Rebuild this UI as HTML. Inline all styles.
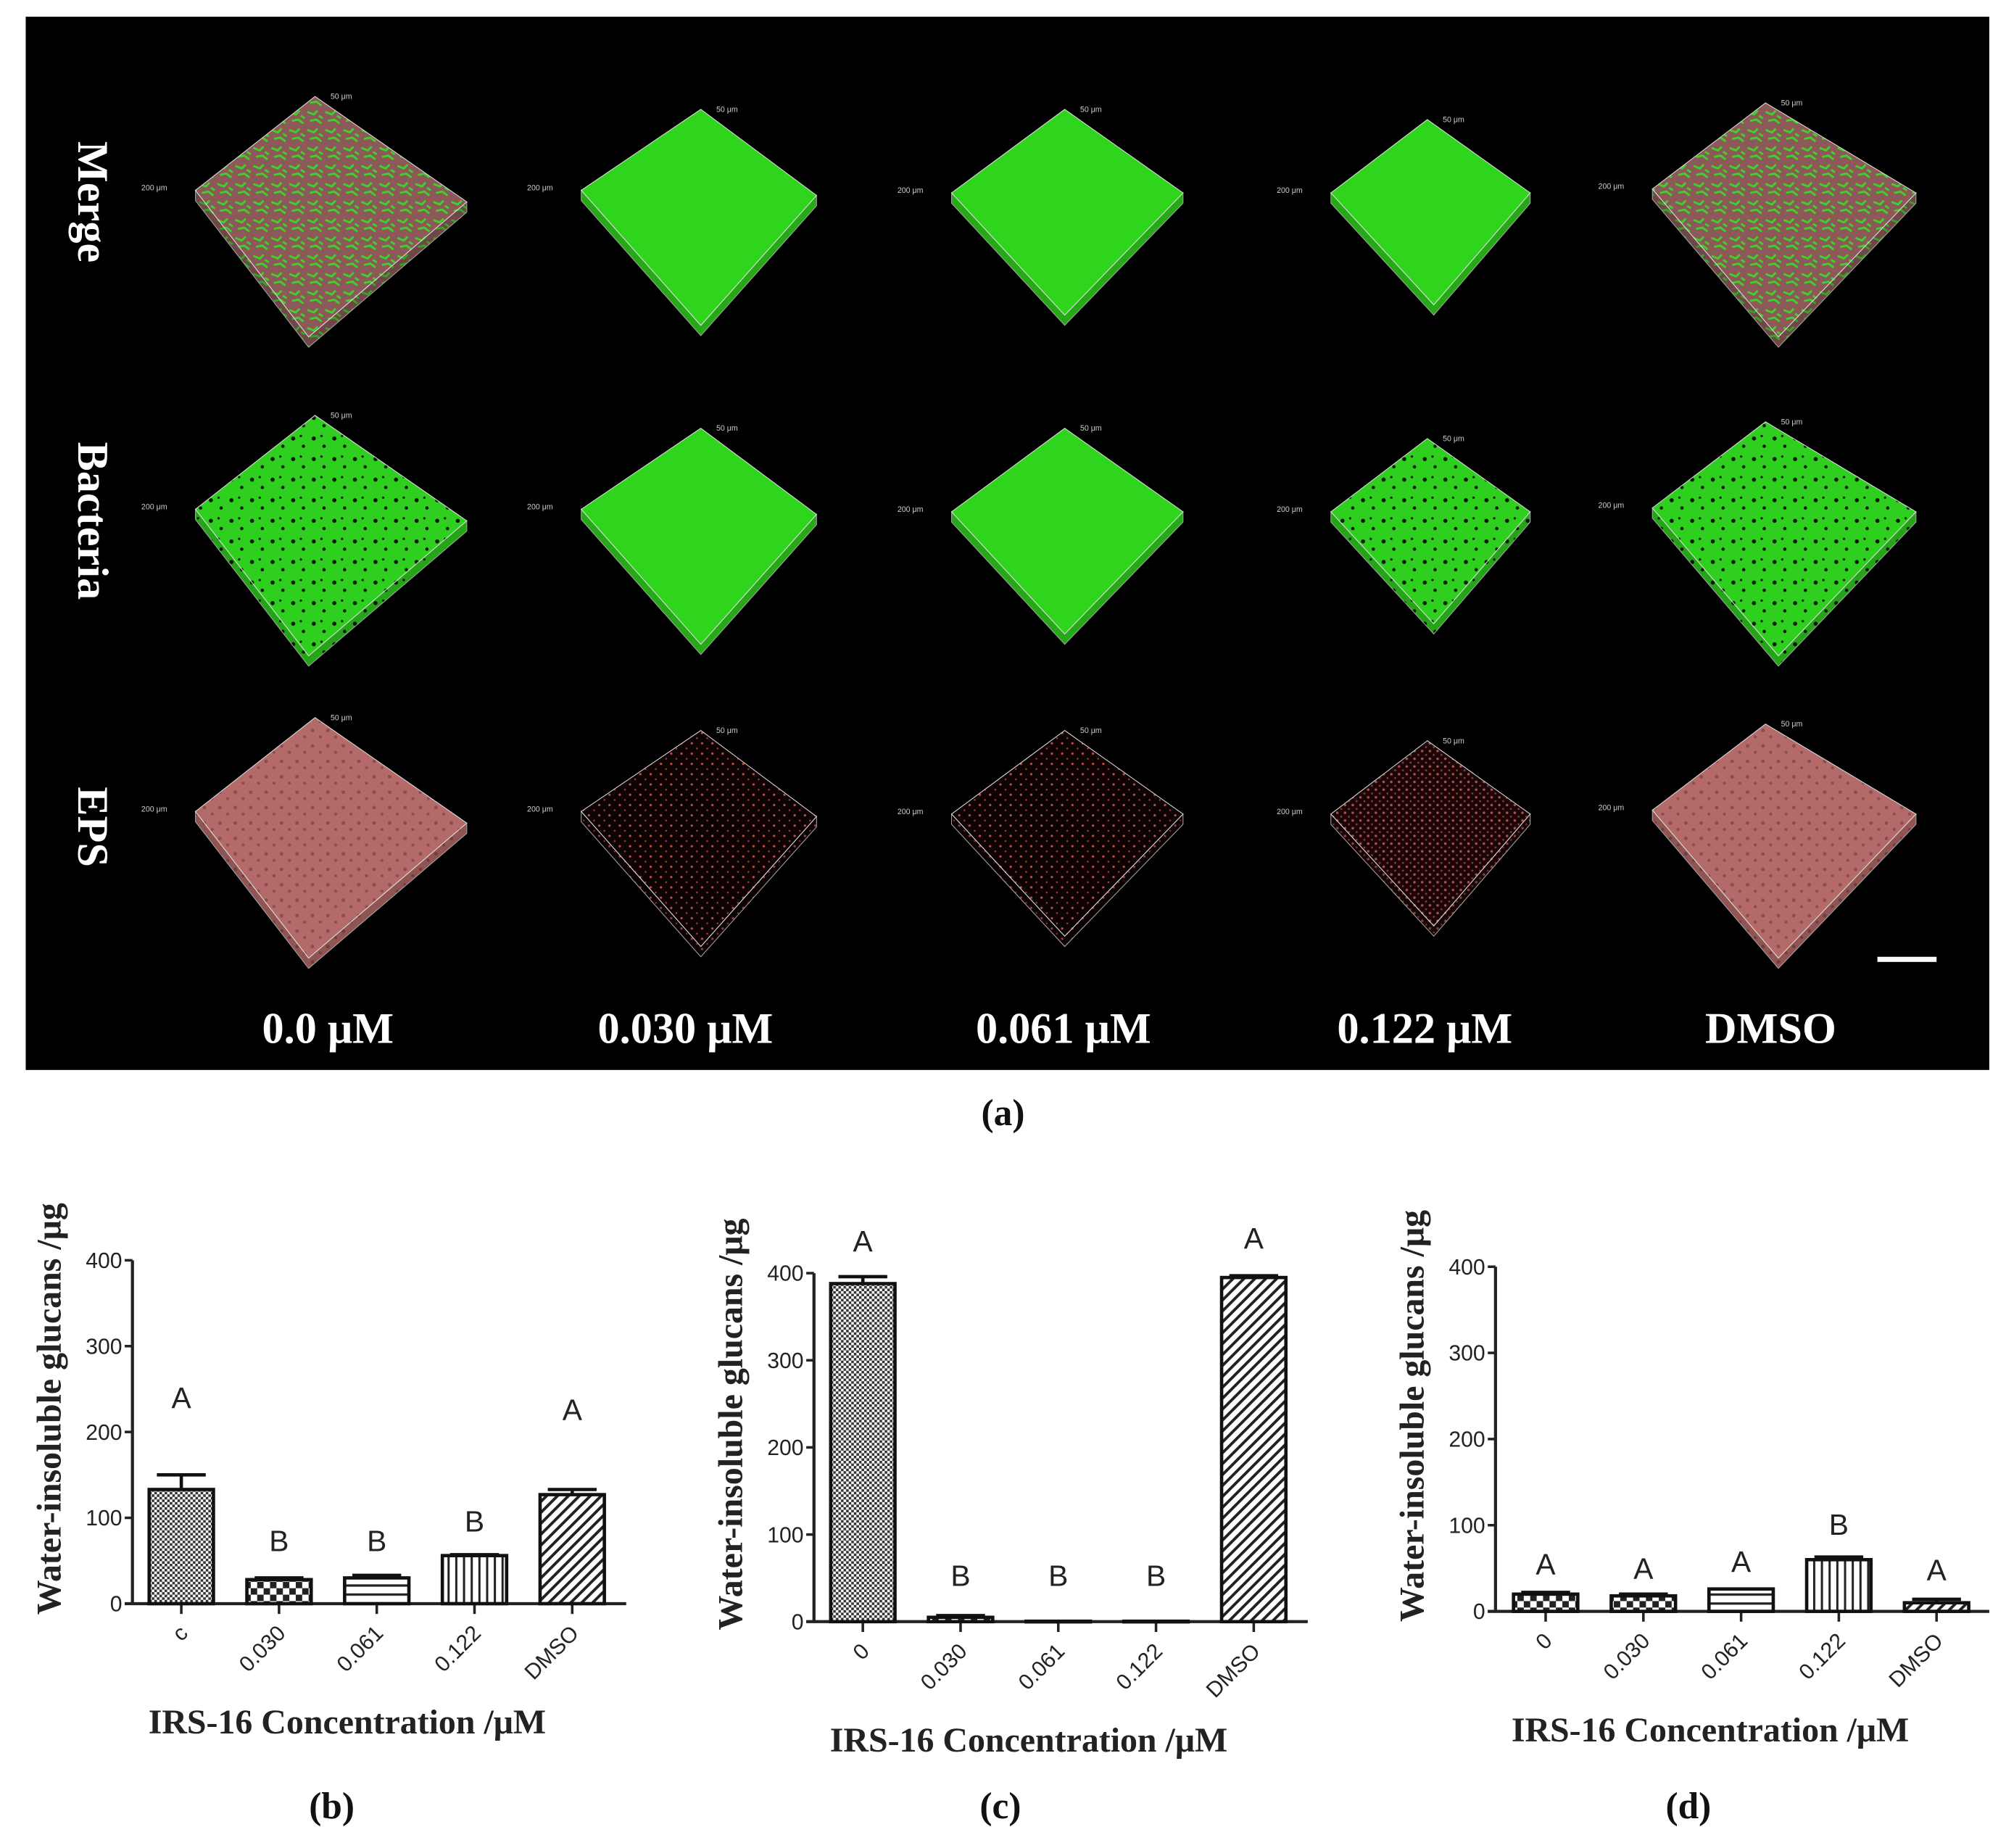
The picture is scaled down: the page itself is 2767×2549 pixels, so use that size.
<!DOCTYPE html>
<html><head><meta charset="utf-8">
<style>
html,body{margin:0;padding:0;background:#fff;}
svg{display:block;}
.tick{font-family:"Liberation Sans",Arial,sans-serif;font-size:17px;fill:#222;}
.lett{font-family:"Liberation Sans",Arial,sans-serif;font-size:23px;fill:#222;}
.ttl{font-family:"Liberation Serif","Times New Roman",serif;font-weight:bold;font-size:27px;fill:#222;}
.wl{font-family:"Liberation Serif","Times New Roman",serif;font-weight:bold;font-size:34px;fill:#fff;}
.pl{font-family:"Liberation Serif","Times New Roman",serif;font-weight:bold;font-size:29px;fill:#111;}
</style></head>
<body>
<svg id="fig" width="2767" height="2549" viewBox="0 0 1560 1437" preserveAspectRatio="none" xmlns="http://www.w3.org/2000/svg">
<defs>
 <pattern id="pMerge" width="14" height="14" patternUnits="userSpaceOnUse">
  <rect width="14" height="14" fill="#8c5858"/>
  <path d="M1 3 L6 5 L9 2 M3 10 L8 9 L12 12 M10 6 L13 8" stroke="#3fd22a" stroke-width="1.6" fill="none"/>
 </pattern>
 <pattern id="pGreen" width="10" height="10" patternUnits="userSpaceOnUse">
  <rect width="10" height="10" fill="#2fd41c"/>
 </pattern>
 <pattern id="pBact" width="16" height="16" patternUnits="userSpaceOnUse">
  <rect width="16" height="16" fill="#2ecf1e"/>
  <circle cx="4" cy="5" r="1.6" fill="#0a1a06"/><circle cx="12" cy="11" r="1.3" fill="#0a1a06"/><circle cx="10" cy="3" r="0.9" fill="#0a1a06"/>
 </pattern>
 <pattern id="pEps" width="12" height="12" patternUnits="userSpaceOnUse">
  <rect width="12" height="12" fill="#b46a68"/>
  <circle cx="3" cy="4" r="1.4" fill="#8a4e4d"/><circle cx="9" cy="9" r="1.2" fill="#8a4e4d"/>
 </pattern>
 <pattern id="pDots" width="8" height="8" patternUnits="userSpaceOnUse">
  <rect width="8" height="8" fill="#0d0303"/>
  <circle cx="2" cy="2" r="0.9" fill="#c05048"/><circle cx="6" cy="6" r="0.7" fill="#a04040"/>
 </pattern>
 <pattern id="pDots2" width="6" height="6" patternUnits="userSpaceOnUse">
  <rect width="6" height="6" fill="#1a0606"/>
  <circle cx="2" cy="2" r="1" fill="#b0504a"/><circle cx="5" cy="5" r="0.8" fill="#8a3a36"/>
 </pattern>
 <pattern id="hFine" width="4" height="4" patternUnits="userSpaceOnUse">
  <rect width="4" height="4" fill="#fff"/><rect width="2" height="2" fill="#333"/><rect x="2" y="2" width="2" height="2" fill="#333"/>
 </pattern>
 <pattern id="hChk" width="10" height="10" patternUnits="userSpaceOnUse">
  <rect width="10" height="10" fill="#fff"/><rect width="5" height="5" fill="#222"/><rect x="5" y="5" width="5" height="5" fill="#222"/>
 </pattern>
 <pattern id="hHor" width="6" height="7" patternUnits="userSpaceOnUse">
  <rect width="6" height="7" fill="#fff"/><rect y="0" width="6" height="1.8" fill="#222"/>
 </pattern>
 <pattern id="hVer" width="6" height="6" patternUnits="userSpaceOnUse">
  <rect width="6" height="6" fill="#fff"/><rect x="0" width="1.7" height="6" fill="#222"/>
 </pattern>
 <pattern id="hDiag" width="6" height="6" patternUnits="userSpaceOnUse" patternTransform="rotate(45)">
  <rect width="6" height="6" fill="#fff"/><rect x="0" width="2.2" height="6" fill="#222"/>
 </pattern>
</defs>

<rect x="20" y="13" width="1527" height="819" fill="#000"/>
<g id="cubes"></g>
<text class="wl" transform="translate(61,157) rotate(90)" text-anchor="middle">Merge</text>
<text class="wl" transform="translate(61,405) rotate(90)" text-anchor="middle">Bacteria</text>
<text class="wl" transform="translate(61,643) rotate(90)" text-anchor="middle">EPS</text>
<text class="wl" x="255" y="811" text-anchor="middle">0.0 μM</text>
<text class="wl" x="533" y="811" text-anchor="middle">0.030 μM</text>
<text class="wl" x="827" y="811" text-anchor="middle">0.061 μM</text>
<text class="wl" x="1108" y="811" text-anchor="middle">0.122 μM</text>
<text class="wl" x="1377" y="811" text-anchor="middle">DMSO</text>
<rect x="1460" y="744" width="46" height="4" fill="#fff"/>
<text class="pl" x="780" y="875" text-anchor="middle">(a)</text>

<g id="charts"></g>
</svg>
<script>
// ---- chart data ----
const categoriesB = ["c","0.030","0.061","0.122","DMSO"];
const valuesB = [133, 28, 30, 56, 127];
const errorsB = [150, 30, 33, 57, 133];
const lettersB = ["A","B","B","B","A"];
const letterLevelB = [240, 73, 73, 96, 226];

const categoriesC = ["0","0.030","0.061","0.122","DMSO"];
const valuesC = [388, 5, 0.5, 0.5, 395];
const errorsC = [396, 7, 0.5, 0.5, 397];
const lettersC = ["A","B","B","B","A"];
const letterLevelC = [437, 53, 53, 53, 440];

const categoriesD = ["0","0.030","0.061","0.122","DMSO"];
const valuesD = [20, 18, 26, 60, 10];
const errorsD = [22, 20, 26, 63, 14];
const lettersD = ["A","A","A","B","A"];
const letterLevelD = [55, 50, 58, 101, 48];

const yTicks = [0, 100, 200, 300, 400];

const NS = "http://www.w3.org/2000/svg";
function mk(tag, attrs, parent){const e=document.createElementNS(NS,tag);for(const k in attrs)e.setAttribute(k,attrs[k]);parent.appendChild(e);return e;}

// ---- microscopy cubes ----
const cubeG = document.getElementById('cubes');
const cols = [
 {t:[245,75],l:[152,148],r:[363,157],b:[240,262],fills:['pMerge','pBact','pEps']},
 {t:[545,85],l:[452,148],r:[635,152],b:[545,253],fills:['pGreen','pGreen','pDots']},
 {t:[828,85],l:[740,150],r:[920,150],b:[828,245],fills:['pGreen','pGreen','pDots']},
 {t:[1110,93],l:[1035,150],r:[1190,150],b:[1115,237],fills:['pGreen','pBact','pDots2']},
 {t:[1373,80],l:[1285,147],r:[1490,150],b:[1383,262],fills:['pMerge','pBact','pEps']}
];
const rowOff=[0,248,483];
cols.forEach((c,ci)=>{rowOff.forEach((dy,ri)=>{
  const g=mk('g',{},cubeG);
  
  
  const th=8;
  const P=p=>(p[0])+','+(p[1]+dy);
  const Pd=p=>(p[0])+','+(p[1]+dy+th);
  mk('polygon',{points:[P(c.l),P(c.b),P(c.r),Pd(c.r),Pd(c.b),Pd(c.l)].join(' '),fill:'url(#'+c.fills[ri]+')',opacity:0.8,stroke:'#ccc','stroke-width':0.6},g);
  mk('polygon',{points:[P(c.t),P(c.r),P(c.b),P(c.l)].join(' '),fill:'url(#'+c.fills[ri]+')',stroke:'#ddd','stroke-width':0.6},g);
  const lbl=mk('text',{x:c.l[0]-22,y:c.l[1]+dy,fill:'#ccc','font-size':6,'font-family':'Liberation Sans, sans-serif','text-anchor':'end'},g);
  lbl.textContent='200 μm';
  const lbl2=mk('text',{x:c.t[0]+12,y:c.t[1]+dy+2,fill:'#ccc','font-size':6,'font-family':'Liberation Sans, sans-serif'},g);
  lbl2.textContent='50 μm';
});});

// ---- bar charts ----
const chartsG=document.getElementById('charts');
function drawChart(cfg){
  const g=mk('g',{},chartsG);
  
  
  const band=76;
  const ys=v=>cfg.y0-(v/400)*(cfg.y0-cfg.y400);
  const xs=i=>cfg.ox+band*(i+0.5)+cfg.shift;
  const xEnd=cfg.ox+band*5+4;
  const ya=mk('line',{x1:cfg.ox,y1:cfg.y0,x2:cfg.ox,y2:ys(400),stroke:'#222','stroke-width':2.4},g);
  
  
  const xa=mk('line',{x1:cfg.ox-6,y1:cfg.y0,x2:xEnd,y2:cfg.y0,stroke:'#222','stroke-width':2.4},g);
  
  
  yTicks.forEach(t=>{
    mk('line',{x1:cfg.ox-6,y1:ys(t),x2:cfg.ox,y2:ys(t),stroke:'#222','stroke-width':2},g);
    const tx=mk('text',{x:cfg.ox-8,y:ys(t)+6,'text-anchor':'end',class:'tick'},g);
    tx.textContent=t;
    
    
  });
  cfg.cats.forEach((cat,i)=>{
    const cx=xs(i), w=50;
    mk('line',{x1:cx,y1:cfg.y0,x2:cx,y2:cfg.y0+8,stroke:'#222','stroke-width':2},g);
    const top=ys(cfg.vals[i]);
    const bar=mk('rect',{x:cx-w/2,y:top,width:w,height:Math.max(cfg.y0-top,0.5),fill:'url(#'+cfg.pats[i]+')',stroke:'#111','stroke-width':2.6},g);
    
    
    const et=ys(cfg.errs[i]);
    if(cfg.errs[i]>cfg.vals[i]){
      const eb=mk('path',{d:`M${cx} ${top} V${et} M${cx-w*0.38} ${et} H${cx+w*0.38}`,stroke:'#111','stroke-width':2.6,fill:'none'},g);
      
      
    }
    const lt=mk('text',{x:cx,y:ys(cfg.lvl[i])+8,'text-anchor':'middle',class:'lett'},g);
    lt.textContent=cfg.lets[i];
    
    
    const xl=mk('text',{transform:`translate(${cx+6},${cfg.y0+24}) rotate(-45)`,'text-anchor':'end',class:'tick'},g);
    xl.textContent=cat;
    
    
  });
  const yt=mk('text',{transform:`translate(${cfg.ox-56},${(cfg.y0+ys(400))/2-18}) rotate(-90)`,'text-anchor':'middle',class:'ttl'},g);
  yt.textContent='Water-insoluble glucans /μg';
  
  
  const xt=mk('text',{x:cfg.ox+band*2.5-23,y:cfg.y0+101,'text-anchor':'middle',class:'ttl'},g);
  xt.textContent='IRS-16 Concentration /μM';
  
  
  const pl=mk('text',{x:cfg.plx,y:1414,'text-anchor':'middle',class:'pl'},g);
  pl.textContent=cfg.panel;
  
  
}
drawChart({name:'chart-b',ox:103,y0:1247,y400:980,shift:0,cats:categoriesB,vals:valuesB,errs:errorsB,lets:lettersB,lvl:letterLevelB,pats:['hFine','hChk','hHor','hVer','hDiag'],panel:'(b)',plx:258});
drawChart({name:'chart-c',ox:633,y0:1261,y400:990,shift:0,cats:categoriesC,vals:valuesC,errs:errorsC,lets:lettersC,lvl:letterLevelC,pats:['hFine','hChk','hHor','hVer','hDiag'],panel:'(c)',plx:778});
drawChart({name:'chart-d',ox:1163,y0:1253,y400:985,shift:1,cats:categoriesD,vals:valuesD,errs:errorsD,lets:lettersD,lvl:letterLevelD,pats:['hChk','hChk','hHor','hVer','hDiag'],panel:'(d)',plx:1313});
</script>
</body></html>
